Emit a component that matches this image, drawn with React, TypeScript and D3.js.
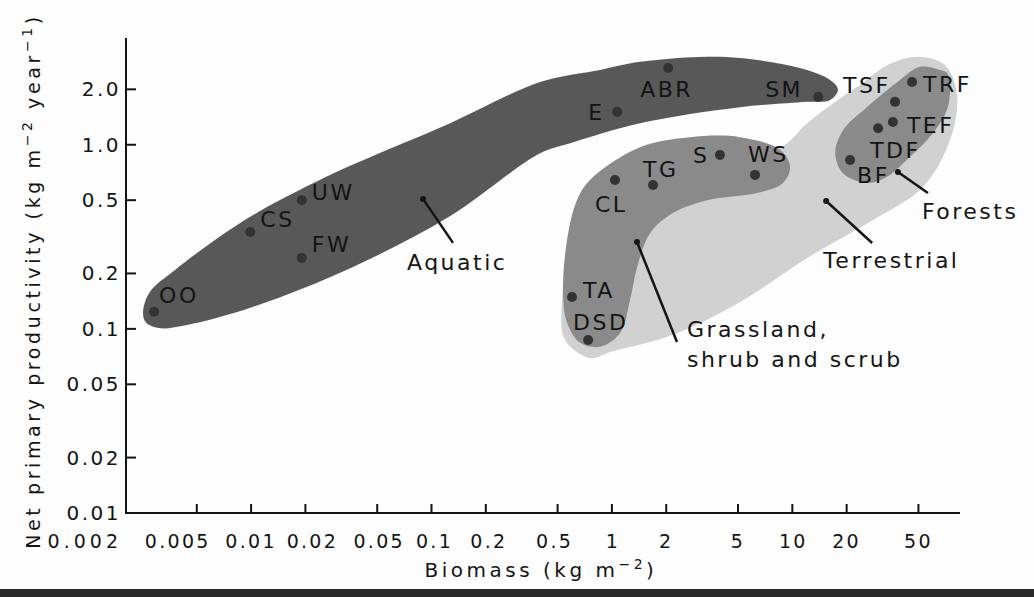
import React from 'react';
import * as d3 from 'd3';

const W = 1034;
const H = 597;

// Axis ticks (log scales)
const xTicks = [0.002, 0.005, 0.01, 0.02, 0.05, 0.1, 0.2, 0.5, 1, 2, 5, 10, 20, 50];
const xTickLabels = ['0.002', '0.005', '0.01', '0.02', '0.05', '0.1', '0.2', '0.5', '1', '2', '5', '10', '20', '50'];
const yTicks = [0.01, 0.02, 0.05, 0.1, 0.2, 0.5, 1, 2];
const yTickLabels = ['0.01', '0.02', '0.05', '0.1', '0.2', '0.5', '1.0', '2.0'];

// Ecosystem types: biomass (kg m-2) and net primary productivity (kg m-2 yr-1)
const ecoNames = ['OO', 'CS', 'UW', 'FW', 'E', 'ABR', 'SM', 'TSF', 'TRF', 'TEF', 'TDF', 'BF', 'S', 'WS', 'TG', 'CL', 'TA', 'DSD'];
const ecoBiomass = [0.0029, 0.0099, 0.0191, 0.0191, 1.07, 2.05, 13.9, 37.1, 46.1, 36.1, 29.9, 20.9, 3.97, 6.21, 1.69, 1.04, 0.601, 0.738];
const ecoNpp = [0.124, 0.336, 0.5, 0.243, 1.51, 2.61, 1.82, 1.71, 2.19, 1.33, 1.23, 0.826, 0.88, 0.686, 0.605, 0.644, 0.149, 0.087];

// Group envelopes as [biomass, npp] outlines
const aquaticOutline: [number, number][] = [
  [0.00252, 0.124], [0.00275, 0.159], [0.00379, 0.209], [0.0063, 0.304], [0.0109, 0.43],
  [0.0187, 0.57], [0.0367, 0.78], [0.127, 1.31], [0.4, 2.19], [0.86, 2.55], [1.43, 2.82],
  [3.08, 3.0], [5.13, 2.96], [11.0, 2.61], [16.2, 2.25], [17.9, 1.99], [16.2, 1.75],
  [12.1, 1.71], [5.13, 1.6], [1.43, 1.31], [0.586, 1.02], [0.4, 0.9], [0.127, 0.41],
  [0.0367, 0.217], [0.0102, 0.1315], [0.0044, 0.105], [0.0031, 0.101], [0.0026, 0.109],
];
const terrestrialOutline: [number, number][] = [
  [0.756, 0.0695], [0.976, 0.075], [2.18, 0.093], [5.13, 0.14], [12.1, 0.243], [28.0, 0.39],
  [53.0, 0.59], [74.8, 1.06], [81.8, 1.86], [70.2, 2.71], [51.0, 3.0], [34.8, 2.75],
  [23.7, 2.11], [17.3, 1.71], [11.8, 1.28], [9.1, 1.0], [5.13, 0.83], [1.43, 0.73],
  [0.756, 0.5], [0.586, 0.268], [0.529, 0.1435], [0.55, 0.087],
];
const grasslandOutline: [number, number][] = [
  [0.756, 0.644], [1.43, 0.97], [2.71, 1.1], [5.13, 1.1], [8.55, 0.94], [9.71, 0.76],
  [8.88, 0.62], [6.37, 0.547], [3.37, 0.5], [2.18, 0.426], [1.63, 0.332], [1.38, 0.217],
  [1.26, 0.1435], [1.11, 0.095], [0.86, 0.08], [0.666, 0.084], [0.564, 0.108],
  [0.536, 0.157], [0.564, 0.304], [0.64, 0.5],
];
const forestOutline: [number, number][] = [
  [65.9, 2.55], [51.0, 2.65], [39.5, 2.25], [25.9, 1.6], [19.1, 1.2], [17.3, 0.9],
  [19.1, 0.7], [25.9, 0.62], [33.5, 0.67], [44.9, 0.86], [60.3, 1.16], [72.0, 1.55],
  [74.8, 2.06], [72.0, 2.46],
];

// Group callouts: pointer tip in data space
const groupNames = ['Aquatic', 'Terrestrial', 'Grassland', 'Forests'];
const groupBiomass = [0.0897, 15.4, 1.377, 38.5];
const groupNpp = [0.508, 0.495, 0.2965, 0.711];

// Layout
const M = { left: 125, right: 960, top: 38, bottom: 513 };
const FONT = '"DejaVu Sans", Verdana, sans-serif';
const INK = '#141414';

// horizontal nudges for crowded x tick labels
const xLabelNudge = [0, -20, -1, 6, 1, 2, 2, -4, 0, -1, -1, 0, -1, -1];

const labelPlacement: Record<string, { dx: number; dy: number }> = {
  OO: { dx: 5, dy: -9 }, CS: { dx: 10, dy: -5 }, UW: { dx: 10, dy: 0 }, FW: { dx: 10, dy: -6 },
  E: { dx: -29, dy: 8 }, ABR: { dx: -28, dy: 29 }, SM: { dx: -53, dy: 0 }, TSF: { dx: -52, dy: -9 },
  TRF: { dx: 11, dy: 10 }, TEF: { dx: 14, dy: 11 }, TDF: { dx: -8, dy: 30 }, BF: { dx: 7, dy: 23 },
  S: { dx: -27, dy: 8 }, WS: { dx: -7, dy: -13 }, TG: { dx: -10, dy: -8 }, CL: { dx: -20, dy: 32 },
  TA: { dx: 11, dy: 1 }, DSD: { dx: -15, dy: -10 },
};

const calloutLayout: Record<string, { lx: number; ly: number; tx: number; ty: number; lines: string[] }> = {
  Aquatic: { lx: 30, ly: 44, tx: -16, ty: 71, lines: ['Aquatic'] },
  Terrestrial: { lx: 46, ly: 42, tx: -3, ty: 67, lines: ['Terrestrial'] },
  Grassland: { lx: 40, ly: 100, tx: 50, ty: 95, lines: ['Grassland,', 'shrub and scrub'] },
  Forests: { lx: 30, ly: 21, tx: 24, ty: 47, lines: ['Forests'] },
};

export default function App() {
  const x = d3.scaleLog().domain([0.002, 85]).range([M.left, M.right]);
  const y = d3.scaleLog().domain([0.01, 3.8]).range([M.bottom, M.top]);

  const outline = d3
    .line<[number, number]>()
    .x((d) => x(d[0]))
    .y((d) => y(d[1]))
    .curve(d3.curveCatmullRomClosed.alpha(0.5));

  const points = ecoNames.map((name, i) => ({ name, bx: x(ecoBiomass[i]), by: y(ecoNpp[i]) }));
  const groups = groupNames.map((name, i) => ({ name, px: x(groupBiomass[i]), py: y(groupNpp[i]) }));

  return (
    <svg width={W} height={H} style={{ position: 'absolute', left: 0, top: 0, background: '#fff' }} fontFamily={FONT}>
      <defs>
        <filter id="grain" x="0" y="0" width="100%" height="100%">
          <feTurbulence type="fractalNoise" baseFrequency="0.9" numOctaves="1" seed="3" result="n" />
          <feColorMatrix in="n" type="matrix" values="0 0 0 0 0  0 0 0 0 0  0 0 0 0 0  0 0 0 0.1 0" result="nd" />
          <feComposite in="nd" in2="SourceGraphic" operator="in" result="nm" />
          <feMerge>
            <feMergeNode in="SourceGraphic" />
            <feMergeNode in="nm" />
          </feMerge>
        </filter>
      </defs>
      <rect width={W} height={H} fill="#fdfdfd" />

      {/* group envelopes */}
      <g filter="url(#grain)">
        <path d={outline(terrestrialOutline) || ''} fill="#d6d6d6" />
        <path d={outline(grasslandOutline) || ''} fill="#8e8e8e" />
        <path d={outline(forestOutline) || ''} fill="#8e8e8e" />
        <path d={outline(aquaticOutline) || ''} fill="#5c5c5c" />
      </g>

      {/* ecosystem points */}
      {points.map((p) => (
        <circle key={p.name} cx={p.bx} cy={p.by} r={5} fill="#333" />
      ))}
      {points.map((p) => {
        const pl = labelPlacement[p.name];
        return (
          <text key={'l' + p.name} x={p.bx + pl.dx} y={p.by + pl.dy} fontSize={22} letterSpacing={2.5} fill={INK}>
            {p.name}
          </text>
        );
      })}

      {/* group callouts */}
      {groups.map((g) => {
        const c = calloutLayout[g.name];
        return (
          <g key={g.name}>
            <line x1={g.px} y1={g.py} x2={g.px + c.lx} y2={g.py + c.ly} stroke={INK} strokeWidth={2.5} />
            <circle cx={g.px} cy={g.py} r={3} fill={INK} />
            {c.lines.map((t, k) => (
              <text key={k} x={g.px + c.tx} y={g.py + c.ty + k * 30} fontSize={22} letterSpacing={2.5} fill={INK}>
                {t}
              </text>
            ))}
          </g>
        );
      })}

      {/* axes */}
      <line x1={M.left + 1} y1={M.top} x2={M.left + 1} y2={M.bottom} stroke={INK} strokeWidth={2} />
      <line x1={M.left} y1={M.bottom} x2={M.right} y2={M.bottom} stroke={INK} strokeWidth={2} />
      {yTicks.map((v, i) => (
        <g key={'y' + v}>
          {i > 0 && <line x1={M.left + 1} x2={M.left + 11} y1={y(v)} y2={y(v)} stroke={INK} strokeWidth={2} />}
          <text x={121} y={y(v) + 7} textAnchor="end" fontSize={20} letterSpacing={2.5} fill={INK}>
            {yTickLabels[i]}
          </text>
        </g>
      ))}
      {xTicks.map((v, i) => (
        <g key={'x' + v}>
          {i > 0 && <line x1={x(v)} x2={x(v)} y1={M.bottom} y2={M.bottom - 9} stroke={INK} strokeWidth={2} />}
          <text
            x={i === 0 ? 122 : x(v) + 1 + xLabelNudge[i]}
            y={548}
            textAnchor={i === 0 ? 'end' : 'middle'}
            fontSize={19}
            letterSpacing={i === 0 ? 4 : 2.3}
            fill={INK}
          >
            {xTickLabels[i]}
          </text>
        </g>
      ))}

      {/* axis titles */}
      <text x={541} y={577} textAnchor="middle" fontSize={20} letterSpacing={3.5} fill={INK}>
        Biomass (kg m
        <tspan dy={-8} fontSize={14}>−2</tspan>
        <tspan dy={8}>)</tspan>
      </text>
      <text transform="translate(40,281) rotate(-90)" textAnchor="middle" fontSize={19} letterSpacing={3.6} fill={INK}>
        Net primary productivity (kg m
        <tspan dy={-8} fontSize={14}>−2</tspan>
        <tspan dy={8}> year</tspan>
        <tspan dy={-8} fontSize={14}>−1</tspan>
        <tspan dy={8}>)</tspan>
      </text>

      {/* bottom frame band */}
      <rect x={0} y={589} width={W} height={H - 589} fill="#2a2a2a" />
    </svg>
  );
}
